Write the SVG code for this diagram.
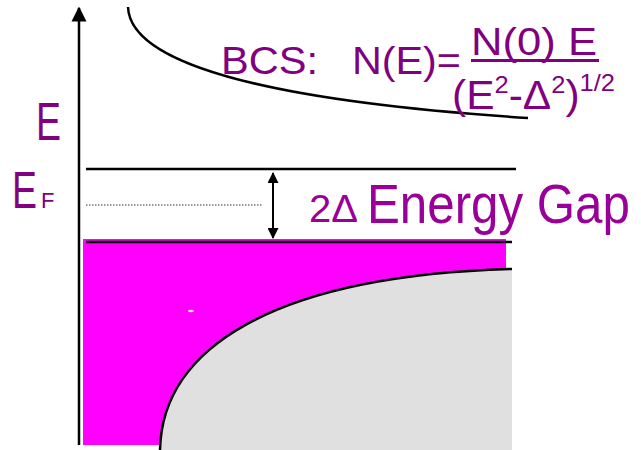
<svg xmlns="http://www.w3.org/2000/svg" width="641" height="450" viewBox="0 0 641 450">
<style>
.ln{stroke:#000;stroke-width:2.5;fill:none}
.t{font-family:"Liberation Sans",Arial,sans-serif;fill:#800080}
.t2{font-family:"Liberation Sans",Arial,sans-serif;fill:#990099}
</style>
<defs>
<marker id="ah" viewBox="0 0 10 10" refX="9" refY="5" markerUnits="userSpaceOnUse" markerWidth="15" markerHeight="16" orient="auto-start-reverse">
<path d="M0,0 L10,5 L0,10 z" fill="#000"/>
</marker>
<marker id="ah2" viewBox="0 0 10 10" refX="9" refY="5" markerUnits="userSpaceOnUse" markerWidth="12" markerHeight="11" orient="auto-start-reverse">
<path d="M0,0 L10,5 L0,10 z" fill="#000"/>
</marker>
</defs>
<rect width="641" height="450" fill="#fff"/>
<g id="filled-states">
<rect x="83" y="239" width="423" height="206" fill="#ff00ff"/>
</g>
<g id="normal-dos">
<path d="M160,450 C162,350 270,276 512,269 L512,450 Z" fill="#e0e0e0"/>
<path d="M160,450 C162,350 270,276 512,269" class="ln"/>
<ellipse cx="191" cy="311" rx="3" ry="1.3" fill="#e0e0e0"/>
</g>
<g id="connectors">
<line x1="79" y1="445" x2="79" y2="8" stroke="#000" stroke-width="2.5" marker-end="url(#ah)"/>
<path d="M128,7 C130,60 250,100 528,118" class="ln" stroke-width="3"/>
<line x1="86" y1="169" x2="516" y2="169" stroke="#000" stroke-width="2.5"/>
<line x1="86" y1="205" x2="263" y2="205" stroke="#000" stroke-width="0.8" stroke-dasharray="1.5,1.5"/>
<line x1="86" y1="242" x2="512" y2="242" stroke="#000" stroke-width="2.5"/>
<line x1="273" y1="173" x2="273" y2="238" stroke="#000" stroke-width="2" marker-start="url(#ah2)" marker-end="url(#ah2)"/>
</g>
<g id="label-E">
<text transform="translate(36,140) scale(0.694,1)" class="t" font-size="54">E</text>
</g>
<g id="label-EF">
<text transform="translate(12,208) scale(0.72,1)" class="t" font-size="52">E</text>
<text x="41" y="208" class="t" font-size="22">F</text>
</g>
<g id="label-gap">
<text x="309" y="222" class="t2" font-size="38" textLength="49" lengthAdjust="spacingAndGlyphs">2Δ</text>
<text transform="translate(367,223) scale(0.88,1)" class="t2" font-size="56">Energy Gap</text>
</g>
<g id="label-bcs">
<text x="221" y="74" class="t" font-size="38" textLength="97" lengthAdjust="spacingAndGlyphs">BCS:</text>
<text x="352" y="74" class="t" font-size="38" textLength="109" lengthAdjust="spacingAndGlyphs">N(E)=</text>
<text x="471" y="55" class="t" font-size="38" textLength="126" lengthAdjust="spacingAndGlyphs">N(0) E</text>
<line x1="471" y1="60.5" x2="599" y2="60.5" stroke="#800080" stroke-width="3"/>
<text x="452" y="109" class="t" font-size="40" textLength="163" lengthAdjust="spacingAndGlyphs">(E<tspan font-size="24" dy="-16">2</tspan><tspan dy="16">-Δ</tspan><tspan font-size="24" dy="-16">2</tspan><tspan dy="16">)</tspan><tspan font-size="24" dy="-18">1/2</tspan></text>
</g>
</svg>
